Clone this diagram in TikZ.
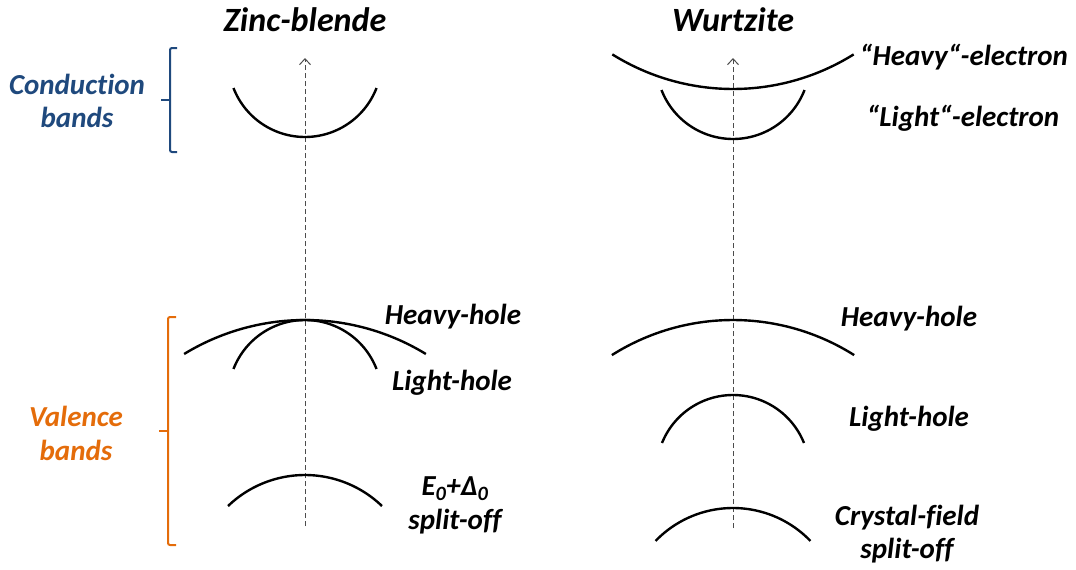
\documentclass[tikz,border=0pt]{standalone}
\usepackage{fontspec}
\setmainfont{Carlito}[Ligatures=NoCommon]
\usetikzlibrary{arrows.meta}
\definecolor{cbblue}{RGB}{31,73,125}
\definecolor{vborange}{RGB}{228,108,10}
% circular band arcs: apex x, apex y, radius, half angle
\newcommand{\bandcap}[4]{\draw[band] plot[domain=-#4:#4, samples=60, smooth] ({#1+#3*sin(\x)},{#2+#3*(1-cos(\x))});}
\newcommand{\bandcup}[4]{\draw[band] plot[domain=-#4:#4, samples=60, smooth] ({#1+#3*sin(\x)},{#2-#3*(1-cos(\x))});}
\begin{document}
\begin{tikzpicture}[x=1pt,y=-1pt,
 band/.style={line width=2.4pt, black},
 axisline/.style={gray!60!black, line width=1pt, dash pattern=on 5pt off 3pt, -{Straight Barb[length=6pt,width=11pt]}},
 lbl/.style={font=\fontsize{29}{33}\selectfont\bfseries\itshape, inner sep=0pt},
 ttl/.style={font=\fontsize{34}{38}\selectfont\bfseries\itshape, inner sep=0pt},
 bracepath/.style={line width=2pt, rounded corners=2pt}]
\useasboundingbox (0,0) rectangle (1076,570);

% titles
\node[ttl] (zb) at (305,20) {Zinc-blende};
\node[ttl] (wz) at (733,20) {Wurtzite};

% axes
\coordinate (zbbot) at (305,526);
\coordinate (zbtop) at (305,58);
\coordinate (wzbot) at (733,528);
\coordinate (wztop) at (733,58);
\draw[axisline] (zbbot) -- (zbtop);
\draw[axisline] (wzbot) -- (wztop);

% zinc-blende bands
\bandcup{305}{137}{76.7}{68.8}
\bandcap{305}{320}{232}{31.4}
\bandcap{305}{320}{76.7}{68.8}
\bandcap{305}{475}{111}{43.9}

% wurtzite bands
\bandcup{733}{89}{227.7}{32}
\bandcup{733}{139}{76.7}{68.8}
\bandcap{733}{320}{226.7}{32.3}
\bandcap{733}{395}{76.5}{68.1}
\bandcap{733}{508}{107.5}{46.1}

% labels zinc-blende
\node[lbl] (zbhh) at (453,317) {Heavy-hole};
\node[lbl] (zblh) at (452,383) {Light-hole};
\node[lbl] (zbso1) at (455,489) {E\textsubscript{0}+Δ\textsubscript{0}};
\node[lbl] (zbso2) at (455,522) {split-off};

% labels wurtzite
\node[lbl] (wzhe) at (964,57) {“Heavy“-electron};
\node[lbl] (wzle) at (963,118) {“Light“-electron};
\node[lbl] (wzhh) at (909,319) {Heavy-hole};
\node[lbl] (wzlh) at (909,419) {Light-hole};
\node[lbl] (wzcf1) at (907,518) {Crystal-field};
\node[lbl] (wzcf2) at (907,551) {split-off};

% group labels
\node[lbl, text=cbblue] (cb1) at (77,84) {Conduction};
\node[lbl, text=cbblue] (cb2) at (77,117) {bands};
\node[lbl, text=vborange] (vb1) at (76,416) {Valence};
\node[lbl, text=vborange] (vb2) at (76,450) {bands};

% braces
\draw[bracepath, cbblue] (177,48) -- (170,48) -- (170,152) -- (177,152);
\draw[line width=2pt, cbblue] (170,100) -- (161,100);
\draw[bracepath, vborange] (176,317) -- (168,317) -- (168,545) -- (176,545);
\draw[line width=2pt, vborange] (168,431) -- (159,431);
\end{tikzpicture}
\end{document}
